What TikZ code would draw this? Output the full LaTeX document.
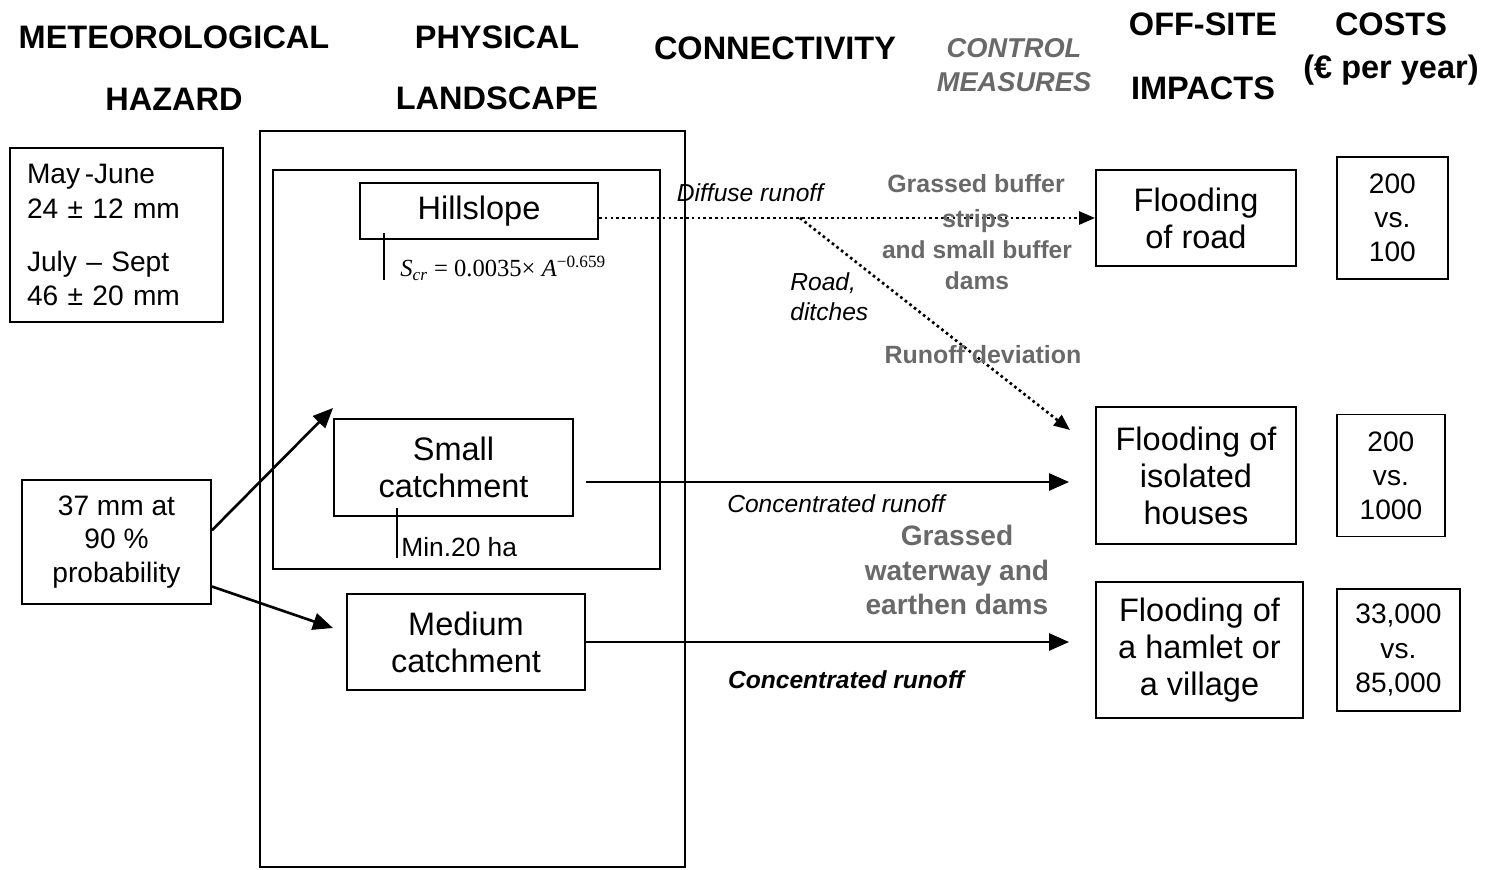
\documentclass[tikz,border=0pt]{standalone}
\usepackage{fontspec}
\setmainfont{Liberation Sans}
\newfontfamily\eqfont{Liberation Serif}
\usetikzlibrary{arrows.meta}
\usetikzlibrary{positioning}
\definecolor{measuregray}{RGB}{105,105,105}
\tikzset{
    box/.style={draw, line width=1.1pt, align=center, inner sep=0pt, font=\fontsize{18.5pt}{21pt}\selectfont},
    costbox/.style={box, font=\fontsize{16pt}{19.4pt}\selectfont},
    head/.style={align=center, inner sep=0pt, font=\fontsize{18.5pt}{35pt}\selectfont\bfseries},
    measure/.style={text=measuregray, align=center, inner sep=0pt, font=\fontsize{14.2pt}{20pt}\selectfont\bfseries},
    flowlabel/.style={inner sep=0pt, align=left, font=\fontsize{14pt}{17pt}\selectfont\itshape},
    flow/.style={line width=1.5pt, ->},
    seep/.style={line width=1.5pt, dash pattern=on 1.5pt off 1.8pt, -{Triangle[length=0.32cm,width=0.26cm]}},
    tick/.style={line width=1.1pt},
}

\begin{document}
\begin{tikzpicture}[x=0.02cm, y=-0.02cm, >={Triangle[length=0.4cm,width=0.34cm]}]
\useasboundingbox (0,0) rectangle (1491,869);

            % Column heads
            \node[head] (hazhead) at (174,68) {METEOROLOGICAL\\HAZARD};
            \node[head] (landhead) at (497,68) {PHYSICAL\\LANDSCAPE};
            \node[head] (connhead) at (775,48) {CONNECTIVITY};
            \node[head, text=measuregray, font=\fontsize{15.5pt}{19.4pt}\selectfont\bfseries\itshape] (ctrlhead) at (1014,65) {CONTROL\\MEASURES};
            \node[head, font=\fontsize{18.5pt}{36.4pt}\selectfont\bfseries] (imphead) at (1203,56) {OFF-SITE\\IMPACTS};
            \node[head, font=\fontsize{18.5pt}{25pt}\selectfont\bfseries] (costhead) at (1391,49) {COSTS\\(€ per year)};

            % Rainfall
            \node[box, font=\fontsize{16pt}{19.4pt}\selectfont, align=left, text width=3.58cm, inner xsep=0.34cm, minimum height=3.48cm] (haz) at (116.5,235) {May\,-June\\24 ± 12 mm\\[10.8pt]July – Sept\\46 ± 20 mm};
            \node[box, font=\fontsize{16pt}{19pt}\selectfont, minimum width=3.78cm, minimum height=2.48cm] (prob) at (116.5,542) {37 mm at\\90 \%\\probability};

            % Landscape
            \node[box, minimum width=8.5cm, minimum height=14.72cm] (land) at (472.5,499) {};
            \node[box, minimum width=7.74cm, minimum height=7.98cm] (zone) at (466.5,369.5) {};
            \node[box, minimum width=4.76cm, minimum height=1.12cm] (hill) at (479,211) {Hillslope};
            \node[box, minimum width=4.78cm, minimum height=1.94cm] (small) at (453.5,467.5) {Small\\catchment};
            \node[box, minimum width=4.76cm, minimum height=1.92cm] (medium) at (466,642) {Medium\\catchment};

            % Thresholds
            \draw[tick] ([shift={(0.5cm,0.14cm)}]hill.south west) -- ++(0,47);
            \node[anchor=west, inner sep=0pt, font=\eqfont\fontsize{14pt}{16pt}\selectfont] (eq) at (400,268) {\textit{S}\textsubscript{\textit{cr}} = 0.0035× \textit{A}\textsuperscript{−0.659}};
            \draw[tick] ([shift={(1.28cm,0.18cm)}]small.south west) -- ++(0,50);
            \node[anchor=west, inner sep=0pt, font=\fontsize{15pt}{17pt}\selectfont] (minarea) at (401,547) {Min.20 ha};

            % Impacts and costs
            \node[box, minimum width=4cm, minimum height=1.92cm] (road) at (1196,218) {Flooding\\of road};
            \node[box, minimum width=4cm, minimum height=2.74cm] (houses) at (1196,475.5) {Flooding of\\isolated\\houses};
            \node[box, minimum width=4.14cm, minimum height=2.72cm] (hamlet) at (1199.5,650) {Flooding of\\a hamlet or\\a village};
            \node[costbox, minimum width=2.22cm, minimum height=2.44cm, right=0.78cm of road] (costroad) {200\\vs.\\100};
            \node[costbox, minimum width=2.16cm, minimum height=2.44cm, right=0.78cm of houses] (costhouses) {200\\vs.\\1000};
            \node[costbox, minimum width=2.46cm, minimum height=2.44cm, right=0.64cm of hamlet] (costhamlet) {33,000\\vs.\\85,000};

            % Rain into the landscape
            \coordinate (zonein) at (333,408);
            \coordinate (mediumin) at (333,628);
            \draw[flow] (prob.7) -- (zonein);
            \draw[flow] (prob.-25) -- (mediumin);

            % Runoff pathways
            \coordinate (fork) at (800,218);
            \coordinate (devend) at (1070,430);
            \draw[seep] (hill.east |- road.west) -- (road.west);
            \draw[seep] (fork) -- (devend);
            \draw[flow, shorten <=0.24cm, shorten >=0.52cm] ([yshift=-0.29cm]small.east) -- ([yshift=-0.29cm]small.east -| houses.west);
            \draw[flow, shorten >=0.52cm] (medium.east) -- (medium.east -| hamlet.west);

            % Pathway labels
            \node[flowlabel] (diffuse) at (750,193) {Diffuse runoff};
            \node[flowlabel, anchor=west] (ditches) at (790,297) {Road,\\ditches};
            \node[flowlabel] (concsmall) at (836,504) {Concentrated runoff};
            \node[flowlabel, font=\fontsize{14pt}{17pt}\selectfont\bfseries\itshape] (concmedium) at (846,680) {Concentrated runoff};

            % Control measures
            \node[measure] (buffer) at (976,203.5) {Grassed buffer\\strips};
            \node[measure, font=\fontsize{14pt}{17.6pt}\selectfont\bfseries] (bufferdams) at (977,265.5) {and small buffer\\dams};
            \node[measure] (deviation) at (983,355) {Runoff deviation};
            \node[measure, font=\fontsize{16pt}{19.4pt}\selectfont\bfseries] (waterway) at (957,570) {Grassed\\waterway and\\earthen dams};

\end{tikzpicture}
\end{document}
